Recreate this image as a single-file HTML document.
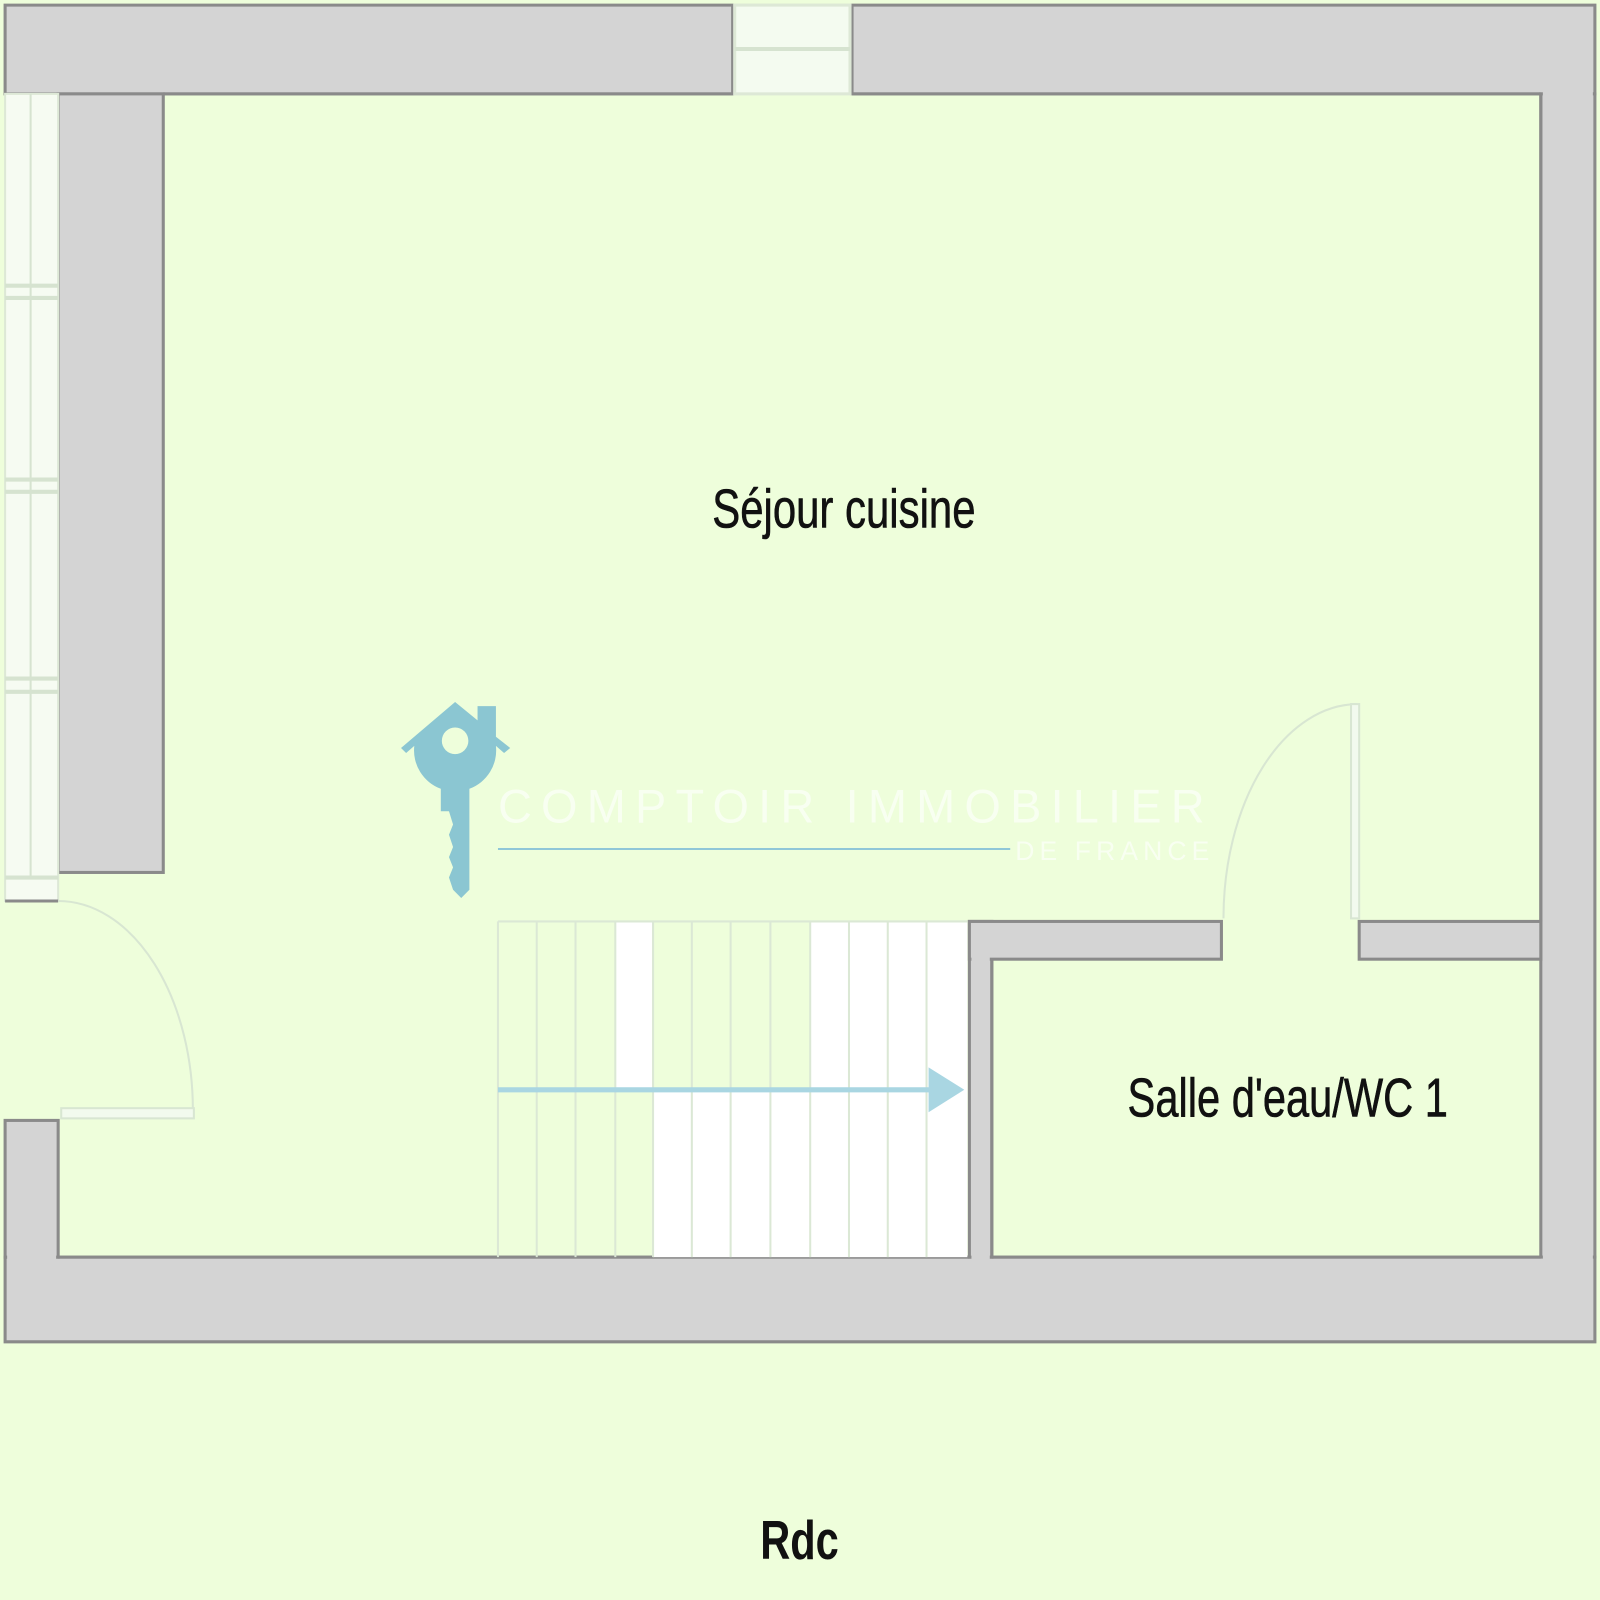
<!DOCTYPE html>
<html><head><meta charset="utf-8"><style>
html,body{margin:0;padding:0;background:#eefedb;}
svg{display:block}
</style></head><body>
<svg width="1600" height="1600" viewBox="0 0 1568 1568" xmlns="http://www.w3.org/2000/svg">
<rect width="1568" height="1568" fill="#eefedb"/>
<g fill="#d4d4d4" stroke="#8a8a8a" stroke-width="3">
<path d="M5 5 H718 V92 H5 Z"/>
<path d="M835 5 H1563 V92 H835 Z"/>
<rect x="1510" y="92" width="53" height="1140"/>
<path d="M5 1232 H1563 V1315 H5 Z"/>
<rect x="5" y="1098" width="52" height="134"/>
<rect x="57" y="92" width="103" height="763"/>
<rect x="950" y="903" width="22" height="329"/>
<rect x="950" y="903" width="247" height="37"/>
<rect x="1332" y="903" width="178" height="37"/>
</g>
<rect x="7" y="1234" width="1554" height="79" fill="#d4d4d4"/>
<rect x="1512" y="7" width="49" height="1306" fill="#d4d4d4"/>
<rect x="837" y="7" width="724" height="83" fill="#d4d4d4"/>
<rect x="7" y="7" width="709" height="83" fill="#d4d4d4"/>
<rect x="952" y="905" width="18" height="329" fill="#d4d4d4"/>
<rect x="952" y="905" width="243" height="33" fill="#d4d4d4"/>
<rect x="1334" y="905" width="174" height="33" fill="#d4d4d4"/>
<rect x="7" y="1100" width="48" height="134" fill="#d4d4d4"/>
<g stroke="#8a8a8a" stroke-width="3" fill="none">
<path d="M57 1232 H950 M972 1232 H1510 M1510 92 V903 M972 940 V1232"/>
<path d="M160 92 H718 M835 92 H1510"/>
</g>
<rect x="720" y="5" width="113" height="87" fill="#f4fbf0" stroke="#dde8d6" stroke-width="3"/>
<line x1="720" y1="48" x2="833" y2="48" stroke="#d6e3d0" stroke-width="4"/>
<rect x="5" y="92" width="52" height="791" fill="#f6fbf2" stroke="#dde8d6" stroke-width="2"/>
<g stroke="#d6e3d0" stroke-width="4">
<line x1="5" y1="280" x2="57" y2="280"/><line x1="5" y1="292" x2="57" y2="292"/>
<line x1="5" y1="470" x2="57" y2="470"/><line x1="5" y1="482" x2="57" y2="482"/>
<line x1="5" y1="665" x2="57" y2="665"/><line x1="5" y1="678" x2="57" y2="678"/>
<line x1="5" y1="860" x2="57" y2="860"/>
<line x1="30" y1="92" x2="30" y2="860" stroke-width="2"/>
</g>
<line x1="5" y1="883" x2="57" y2="883" stroke="#8a8a8a" stroke-width="3"/>
<path d="M57 883 A132 205 0 0 1 189 1092" fill="none" stroke="#d8e6d2" stroke-width="2"/>
<rect x="60" y="1086" width="130" height="10" fill="#f2faee" stroke="#d8e6d2" stroke-width="2"/>
<path d="M1330 690 A132 210 0 0 0 1199 900" fill="none" stroke="#d8e6d2" stroke-width="2"/>
<rect x="1324" y="690" width="8" height="210" fill="#f2faee" stroke="#d8e6d2" stroke-width="2"/>
<rect x="640" y="903" width="308" height="329" fill="#ffffff"/>
<rect x="603" y="903" width="37" height="163" fill="#ffffff"/>
<rect x="640" y="903" width="154" height="163" fill="#eefedb"/>
<g stroke="#dbe8d5" stroke-width="2">
<line x1="488" y1="903" x2="948" y2="903"/>
<line x1="488" y1="903" x2="488" y2="1232"/><line x1="526" y1="903" x2="526" y2="1232"/>
<line x1="564" y1="903" x2="564" y2="1232"/><line x1="603" y1="903" x2="603" y2="1232"/>
<line x1="640" y1="903" x2="640" y2="1232"/><line x1="678" y1="903" x2="678" y2="1232"/>
<line x1="716" y1="903" x2="716" y2="1232"/><line x1="755" y1="903" x2="755" y2="1232"/>
<line x1="794" y1="903" x2="794" y2="1232"/><line x1="832" y1="903" x2="832" y2="1232"/>
<line x1="870" y1="903" x2="870" y2="1232"/><line x1="908" y1="903" x2="908" y2="1232"/>
</g>
<line x1="488" y1="1068" x2="912" y2="1068" stroke="#a9d6e2" stroke-width="5"/>
<polygon points="910,1046 945,1068 910,1090" fill="#a9d6e2"/>
<g fill="#7fc0d0" opacity="0.9">
<path d="M393 733 L446 688 L468 706 L468 692 L486 692 L486 722 L500 733 L494 738 L486 731 A40 40 0 0 1 460 773 L460 872 L452 880 L444 872 L440 860 L444 850 L440 840 L444 830 L440 818 L444 808 L440 795 L432 795 L432 773 A40 40 0 0 1 406 731 L398 738 Z"/>
</g>
<circle cx="446" cy="726" r="13" fill="#eefedb"/>
<text x="488" y="806" font-family="Liberation Sans, sans-serif" font-size="46" fill="#ffffff" fill-opacity="0.6" letter-spacing="9">COMPTOIR IMMOBILIER</text>
<line x1="488" y1="832" x2="990" y2="832" stroke="#8fc7d8" stroke-width="2"/>
<text x="995" y="843" font-family="Liberation Sans, sans-serif" font-size="26" fill="#ffffff" fill-opacity="0.6" letter-spacing="5">DE FRANCE</text>
<text x="698" y="517" font-family="Liberation Sans, sans-serif" font-size="54" fill="#111" stroke="#111" stroke-width="0.6" textLength="258" lengthAdjust="spacingAndGlyphs">Séjour cuisine</text>
<text x="1105" y="1094" font-family="Liberation Sans, sans-serif" font-size="54" fill="#111" stroke="#111" stroke-width="0.6" textLength="314" lengthAdjust="spacingAndGlyphs">Salle d'eau/WC 1</text>
<text x="745" y="1528" font-family="Liberation Sans, sans-serif" font-weight="bold" font-size="54" fill="#111" textLength="77" lengthAdjust="spacingAndGlyphs">Rdc</text>
</svg>
</body></html>
